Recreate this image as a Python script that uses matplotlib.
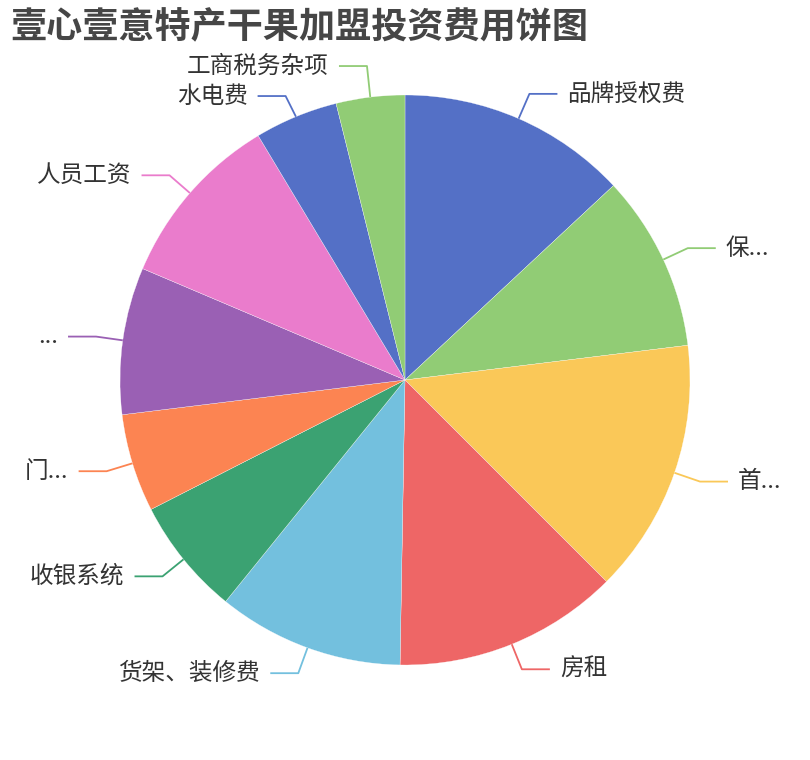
import numpy as np
import matplotlib
matplotlib.use('Agg')
import matplotlib.pyplot as plt

plt.rcParams['font.family'] = ['Noto Sans CJK SC', 'DejaVu Sans']

# slice data, clockwise from the top
labels = ['品牌授权费', '保...', '首...', '房租', '货架、装修费', '收银系统',
          '门...', '...', '人员工资', '水电费', '工商税务杂项']
values = [4.7, 3.6, 5.2, 4.6, 3.8, 2.4, 2.0, 3.0, 3.6, 1.7, 1.4]
colors = ['#5470c6', '#91cc75', '#fac858', '#ee6666', '#73c0de', '#3ba272',
          '#fc8452', '#9a60b4', '#ea7ccc', '#5470c6', '#91cc75']

cx, cy, r = 405, 380, 285

fig = plt.figure(figsize=(8.1, 7.6), dpi=100)
ax = fig.add_axes([0, 0, 1, 1])
ax.pie(values, colors=colors, startangle=90, counterclock=False,
       center=(cx, cy), radius=r, frame=True,
       wedgeprops=dict(edgecolor='white', linewidth=0.2))
ax.set_xlim(0, 810)
ax.set_ylim(0, 760)
ax.set_aspect('equal')
ax.axis('off')

# label anchor points
total = sum(values)
acc = 0
items = []
for lab, v, c in zip(labels, values, colors):
    mid = 90 - (acc + v / 2) / total * 360
    acc += v
    a = np.deg2rad(mid)
    x0, y0 = cx + r * np.cos(a), cy + r * np.sin(a)
    x1, y1 = cx + (r + 27) * np.cos(a), cy + (r + 27) * np.sin(a)
    side = 1 if np.cos(a) >= 0 else -1
    items.append([lab, c, x0, y0, x1, y1, side])

# push apart labels that sit too close on the same side
gap = 30
for s in (1, -1):
    grp = sorted([it for it in items if it[6] == s], key=lambda it: it[5])
    for _ in range(10):
        for lo, hi in zip(grp[:-1], grp[1:]):
            d = hi[5] - lo[5]
            if d < gap:
                lo[5] -= (gap - d) / 2
                hi[5] += (gap - d) / 2

for lab, c, x0, y0, x1, y1, side in items:
    x2 = x1 + side * 28
    ax.plot([x0, x1, x2], [y0, y1, y1], color=c, lw=1.3, solid_capstyle='butt')
    ax.text(x2 + side * 10, y1, lab, fontsize=17, color='#333333',
            ha='left' if side > 0 else 'right', va='center')

fig.text(10 / 810, 1 - 28 / 760, '壹心壹意特产干果加盟投资费用饼图', fontsize=26,
         fontweight='bold', color='#464646', va='center', ha='left')

fig.savefig('out.png', dpi=100)
